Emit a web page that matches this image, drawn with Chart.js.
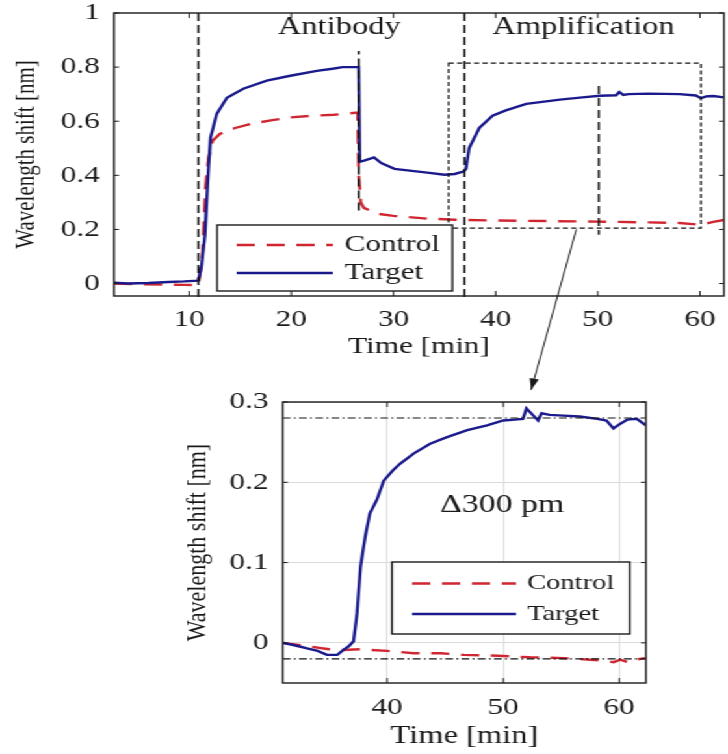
<!DOCTYPE html>
<html>
<head>
<meta charset="utf-8">
<script src="https://cdn.jsdelivr.net/npm/chart.js@4.4.1/dist/chart.umd.min.js"></script>
<style>
  html, body { margin: 0; padding: 0; background: #fff; }
  /* the source figure is wide-stretched, so draw narrow and widen it */
  #figure { position: absolute; left: 0; top: 0; width: 560px; height: 754px; transform: scaleX(1.3); transform-origin: 0 0; }
  #figure canvas { position: absolute; left: 0; top: 0; }
</style>
</head>
<body>
<div id="figure">
  <canvas id="overviewPlot" width="560" height="754"></canvas>
  <canvas id="zoomPlot" width="560" height="754"></canvas>
</div>
<script>
const SERIF = "'Liberation Serif', 'Times New Roman', Times, serif"
const STRETCH = 1.3
const BLUE = 'rgb(26, 26, 140)'
const RED = 'rgb(208, 38, 50)'
const INK = '#1a1a1a'

// whole run (top panel)
const overviewTargetTime = [2.65, 4, 6, 8, 9.5, 10.9, 11.2, 11.55, 11.9, 12.1, 12.7, 13.7, 15.3, 17.6, 19.9, 22.5, 24.2, 25, 26.6,
  26.7, 27.2, 28.1, 28.8, 30.1, 33.3, 35, 36, 36.9, 37.1, 37.4, 38.4, 39.7, 41, 43, 46.3, 48.5, 50.2, 51.8, 52.1, 52.5, 53,
  55, 58, 59.6, 60.1, 60.6, 61.3, 62.35]
const overviewTargetShift = [0.003, 0.0, 0.002, 0.006, 0.008, 0.011, 0.06, 0.18, 0.43, 0.54, 0.627, 0.687, 0.72, 0.75, 0.768, 0.786, 0.795, 0.8, 0.8,
  0.45, 0.455, 0.466, 0.445, 0.424, 0.41, 0.402, 0.405, 0.415, 0.425, 0.5, 0.575, 0.62, 0.64, 0.664, 0.68, 0.688, 0.694, 0.696, 0.708, 0.697, 0.7,
  0.702, 0.7, 0.695, 0.685, 0.692, 0.693, 0.688]
const overviewControlTime = [2.65, 5, 8, 9.5, 10.9, 11.3, 11.6, 11.9, 12.3, 13, 14.5, 16, 18, 19.9, 22, 24.2, 26.5, 26.6, 26.8, 27.1,
  28.4, 30, 33.3, 36, 40, 45, 50, 55, 58, 60.2, 61.3, 62.35]
const overviewControlShift = [0.0, -0.002, -0.004, -0.005, -0.006, 0.1, 0.35, 0.465, 0.528, 0.553, 0.575, 0.59, 0.603, 0.614, 0.62, 0.624, 0.632, 0.4, 0.3, 0.28,
  0.258, 0.25, 0.24, 0.236, 0.233, 0.231, 0.229, 0.226, 0.224, 0.217, 0.228, 0.235]

// amplification step, re-zeroed (bottom panel)
const zoomTargetTime = [31.0, 32.0, 33.1, 34.0, 34.8, 35.7, 36.2, 36.7, 37.1, 37.4, 37.7, 38.1, 38.5, 39.1, 39.7, 40.5, 41.1, 42.3, 43.7,
  45.1, 46.9, 48.6, 50.0, 51.0, 51.7, 52.0, 52.6, 53.0, 53.3, 54.0, 55.2, 56.6, 58.1, 58.9, 59.5, 60.1, 60.7, 61.5, 62.3]
const zoomTargetShift = [0.0, -0.003, -0.007, -0.01, -0.015, -0.015, -0.009, -0.004, 0.002, 0.037, 0.095, 0.132, 0.161, 0.178, 0.202, 0.215, 0.223, 0.236, 0.248,
  0.256, 0.265, 0.271, 0.277, 0.278, 0.279, 0.292, 0.283, 0.277, 0.286, 0.284, 0.283, 0.282, 0.279, 0.277, 0.267, 0.273, 0.278, 0.279, 0.271]
const zoomControlTime = [31.0, 33.1, 35.0, 35.7, 37.7, 40.0, 42.3, 44.6, 46.6, 49.5, 52.3, 55.2, 58.6, 59.5, 60.1, 60.7, 61.3, 62.3]
const zoomControlShift = [0.0, -0.004, -0.008, -0.009, -0.008, -0.01, -0.013, -0.013, -0.015, -0.016, -0.018, -0.019, -0.022, -0.024, -0.021, -0.024, -0.021, -0.019]

// annotations
const phaseNames = ['Antibody', 'Amplification']
const phaseNameTime = [24.7, 48.6]
const phaseMarkTime = [10.9, 26.6, 36.95]
const phaseMarkFrom = [-0.05, 0.27, -0.05]
const phaseMarkTo = [1, 0.86, 1]
const zoomWindow = { x0: 35.4, x1: 60.1, y0: 0.205, y1: 0.815 }
const plateauLevels = [0.28, -0.02]
const deltaText = '\u0394300 pm'

const font = (size, lineHeight = 1.2) => ({ family: SERIF, size, lineHeight })
const toPoints = (xs, ys) => xs.map((x, i) => ({ x, y: ys[i] }))

const lineSets = (ctlT, ctlV, tgtT, tgtV) => [
  { label: 'Control', data: toPoints(ctlT, ctlV), borderColor: RED, borderWidth: 2.4, borderDash: [14, 9],
    pointRadius: 0, tension: 0, order: 2 },
  { label: 'Target', data: toPoints(tgtT, tgtV), borderColor: BLUE, borderWidth: 2.4,
    pointRadius: 0, tension: 0, order: 1 }
]

// tick marks are drawn inward by boxTicks, so the library ones only reserve the gap
const axes = (o) => ({
  x: {
    type: 'linear', min: o.xMin, max: o.xMax,
    ticks: { stepSize: 10, includeBounds: false, padding: 0, color: INK, font: font(24, 1), maxRotation: 0, autoSkip: false },
    grid: { display: !!o.grid, color: o.grid, drawTicks: true, tickLength: o.xPad, tickColor: 'rgba(0,0,0,0)' },
    border: { display: false },
    title: { display: true, text: 'Time [min]', color: INK, font: font(o.xTitle), padding: 0 },
    afterFit: s => { s.height = o.xHeight }
  },
  y: {
    type: 'linear', min: o.yMin, max: o.yMax,
    ticks: { stepSize: o.yStep, includeBounds: false, padding: 0, color: INK, font: font(24, 1), callback: v => String(v) },
    grid: { display: !!o.grid, color: o.grid, drawTicks: true, tickLength: 11, tickColor: 'rgba(0,0,0,0)' },
    border: { display: false },
    title: { display: true, text: 'Wavelength shift [nm]', color: INK, font: font(o.yTitle), padding: 0 },
    afterFit: s => { s.width = o.yWidth }
  }
})

function line(ctx, x1, y1, x2, y2) {
  ctx.beginPath(); ctx.moveTo(x1, y1); ctx.lineTo(x2, y2); ctx.stroke()
}

// matlab style box with inward ticks on all sides
function boxTicks(chart) {
  const { ctx, chartArea: a, scales: { x, y } } = chart
  ctx.save()
  ctx.strokeStyle = INK; ctx.lineWidth = 1; ctx.setLineDash([])
  x.ticks.forEach(t => {
    const px = x.getPixelForValue(t.value)
    line(ctx, px, a.bottom, px, a.bottom - 5)
    line(ctx, px, a.top, px, a.top + 5)
  })
  y.ticks.forEach(t => {
    const py = y.getPixelForValue(t.value)
    line(ctx, a.left, py, a.left + 5 / STRETCH, py)
    line(ctx, a.right, py, a.right - 5 / STRETCH, py)
  })
  ctx.lineWidth = 1.4
  ctx.strokeRect(a.left, a.top, a.right - a.left, a.bottom - a.top)
  ctx.restore()
}

function drawLegend(chart, box, rowY, sample, textX, size) {
  const { ctx } = chart
  ctx.save()
  ctx.fillStyle = '#fff'
  ctx.fillRect(box.x, box.y, box.w, box.h)
  ctx.setLineDash([]); ctx.lineWidth = 1.4; ctx.strokeStyle = INK
  ctx.strokeRect(box.x, box.y, box.w, box.h)
  chart.data.datasets.forEach((ds, i) => {
    ctx.strokeStyle = ds.borderColor
    ctx.lineWidth = ds.borderWidth
    ctx.setLineDash(ds.borderDash || [])
    line(ctx, sample[0], rowY[i], sample[1], rowY[i])
    ctx.fillStyle = INK
    ctx.font = `${size}px ${SERIF}`
    ctx.textAlign = 'left'; ctx.textBaseline = 'middle'
    ctx.fillText(ds.label, textX, rowY[i])
  })
  ctx.restore()
}

const overviewDecor = {
  id: 'overviewDecor',
  afterDatasetsDraw(chart) {
    const { ctx, scales: { x, y } } = chart
    ctx.save()
    ctx.strokeStyle = '#111'
    ctx.lineWidth = 1.6
    ctx.setLineDash([8, 4])
    phaseMarkTime.forEach((t, i) => {
      line(ctx, x.getPixelForValue(t), y.getPixelForValue(phaseMarkFrom[i]), x.getPixelForValue(t), y.getPixelForValue(phaseMarkTo[i]))
    })
    // zoom window and its mid marker
    ctx.lineWidth = 1.3
    ctx.setLineDash([4, 2.5])
    const wx0 = x.getPixelForValue(zoomWindow.x0), wx1 = x.getPixelForValue(zoomWindow.x1)
    const wy0 = y.getPixelForValue(zoomWindow.y0), wy1 = y.getPixelForValue(zoomWindow.y1)
    ctx.strokeRect(wx0, wy1, wx1 - wx0, wy0 - wy1)
    ctx.lineWidth = 1.6
    ctx.setLineDash([8, 4])
    line(ctx, x.getPixelForValue(50.1), y.getPixelForValue(0.73), x.getPixelForValue(50.1), y.getPixelForValue(0.18))
    ctx.restore()

    ctx.save()
    ctx.fillStyle = INK
    ctx.font = `25px ${SERIF}`
    ctx.textAlign = 'center'; ctx.textBaseline = 'middle'
    phaseNames.forEach((n, i) => ctx.fillText(n, x.getPixelForValue(phaseNameTime[i]), y.getPixelForValue(0.945)))
    ctx.restore()

    boxTicks(chart)
    drawLegend(chart, { x: 167, y: 225, w: 181, h: 66 }, [245, 273], [182, 256], 265, 24)
  }
}

const overviewChart = new Chart(document.getElementById('overviewPlot'), {
  type: 'line',
  data: { datasets: lineSets(overviewControlTime, overviewControlShift, overviewTargetTime, overviewTargetShift) },
  options: {
    responsive: false,
    animation: false,
    layout: { padding: { left: 8.2, right: 3.1, top: 13, bottom: 393 } },
    plugins: { legend: { display: false }, tooltip: { enabled: false } },
    scales: axes({ xMin: 2.65, xMax: 62.35, yMin: -0.046, yMax: 1, yStep: 0.2, xPad: 12,
      xHeight: 65, yWidth: 79.5, xTitle: 24, yTitle: 21 })
  },
  plugins: [overviewDecor]
})

const zoomDecor = {
  id: 'zoomDecor',
  afterDatasetsDraw(chart) {
    const { ctx, chartArea: a, scales: { x, y } } = chart
    ctx.save()
    ctx.strokeStyle = '#111'
    ctx.lineWidth = 1.1
    ctx.setLineDash([6, 2.5, 1.5, 2.5])
    plateauLevels.forEach(v => line(ctx, a.left, y.getPixelForValue(v), a.right, y.getPixelForValue(v)))
    ctx.setLineDash([])
    ctx.fillStyle = INK
    ctx.font = `26px ${SERIF}`
    ctx.textAlign = 'center'; ctx.textBaseline = 'middle'
    ctx.fillText(deltaText, x.getPixelForValue(49.9), y.getPixelForValue(0.171))

    // arrow from the zoom window in the top panel
    const ox = overviewChart.scales.x, oy = overviewChart.scales.y
    const sx = ox.getPixelForValue(47.9), sy = oy.getPixelForValue(0.2)
    const ex = x.getPixelForValue(52.4), ey = y.getPixelForValue(0.315)
    ctx.strokeStyle = INK
    ctx.lineWidth = 1
    line(ctx, sx, sy, ex, ey)
    const ang = Math.atan2(ey - sy, ex - sx)
    ctx.beginPath()
    ctx.moveTo(ex, ey)
    ctx.lineTo(ex - 12 * Math.cos(ang - 0.3), ey - 12 * Math.sin(ang - 0.3))
    ctx.lineTo(ex - 12 * Math.cos(ang + 0.3), ey - 12 * Math.sin(ang + 0.3))
    ctx.closePath()
    ctx.fill()
    ctx.restore()

    boxTicks(chart)
    drawLegend(chart, { x: 301.5, y: 562, w: 183, h: 72 }, [583.5, 614], [317, 397], 405.4, 22)
  }
}

new Chart(document.getElementById('zoomPlot'), {
  type: 'line',
  data: { datasets: lineSets(zoomControlTime, zoomControlShift, zoomTargetTime, zoomTargetShift) },
  options: {
    responsive: false,
    animation: false,
    layout: { padding: { left: 139.5, right: 63.1, top: 402, bottom: 2.5 } },
    plugins: { legend: { display: false }, tooltip: { enabled: false } },
    scales: axes({ xMin: 31, xMax: 62.3, yMin: -0.05, yMax: 0.3, yStep: 0.1, xPad: 13,
      xHeight: 68.5, yWidth: 78, xTitle: 25, yTitle: 22, grid: '#dadada' })
  },
  plugins: [zoomDecor]
})
</script>
</body>
</html>
